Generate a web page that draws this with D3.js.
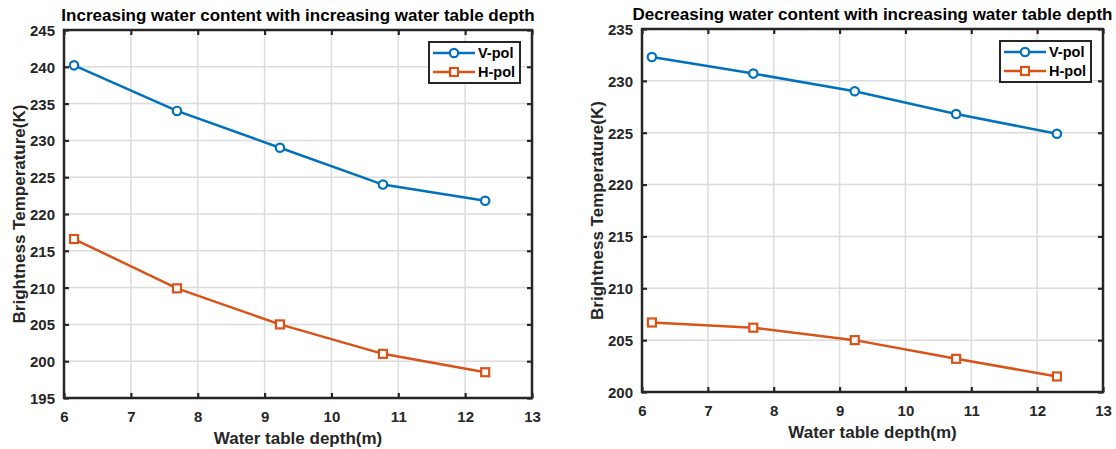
<!DOCTYPE html>
<html>
<head>
<meta charset="utf-8">
<script src="https://cdn.jsdelivr.net/npm/d3@7"></script>
<style>
  body { margin: 0; background: #fff; }
  svg { display: block; font-family: 'Liberation Sans', Arial, sans-serif; }
</style>
</head>
<body>
<div id="chart"></div>
<script>
// Data
var depth = [6.15, 7.69, 9.23, 10.77, 12.3]
var incV = [240.2, 234.0, 229.0, 224.0, 221.8]
var incH = [216.6, 209.9, 205.0, 201.0, 198.5]
var decV = [232.3, 230.7, 229.0, 226.8, 224.9]
var decH = [206.7, 206.2, 205.0, 203.2, 201.5]

var xTicks = [6, 7, 8, 9, 10, 11, 12, 13]
var yTicksInc = [195, 200, 205, 210, 215, 220, 225, 230, 235, 240, 245]
var yTicksDec = [200, 205, 210, 215, 220, 225, 230, 235]

var titles = [
  'Increasing water content with increasing water table depth',
  'Decreasing water content with increasing water table depth'
]
var seriesNames = ['V-pol', 'H-pol']
var xLabel = 'Water table depth(m)'
var yLabel = 'Brightness Temperature(K)'

var colors = ['#0072BD', '#D95319']
var axisColor = '#262626'

var svg = d3.select('#chart')
  .append('svg')
  .attr('width', 1116)
  .attr('height', 449)

// panel boxes (pixel layout only)
var panels = [
  { left: 64, right: 532, top: 30, bottom: 398, yDomain: [195, 245], yTicks: yTicksInc, v: incV, h: incH, title: titles[0], ylx: 19 },
  { left: 642, right: 1103, top: 29, bottom: 392, yDomain: [200, 235], yTicks: yTicksDec, v: decV, h: decH, title: titles[1], ylx: 597 }
]

panels.forEach(function(p) {
  var width = p.right - p.left
  var height = p.bottom - p.top

  var xPositionScale = d3.scaleLinear().domain([6, 13]).range([0, width])
  var yPositionScale = d3.scaleLinear().domain(p.yDomain).range([height, 0])

  var g = svg.append('g')
    .attr('transform', 'translate(' + p.left + ',' + p.top + ')')

  // grid lines
  g.append('g')
    .selectAll('line')
    .data(xTicks.slice(1, -1))
    .enter()
    .append('line')
    .attr('x1', d => xPositionScale(d))
    .attr('x2', d => xPositionScale(d))
    .attr('y1', 0)
    .attr('y2', height)
    .attr('stroke', '#dcdcdc')
    .attr('stroke-width', 1.5)

  g.append('g')
    .selectAll('line')
    .data(p.yTicks.slice(1, -1))
    .enter()
    .append('line')
    .attr('y1', d => yPositionScale(d))
    .attr('y2', d => yPositionScale(d))
    .attr('x1', 0)
    .attr('x2', width)
    .attr('stroke', '#dcdcdc')
    .attr('stroke-width', 1.5)

  // axes with inward ticks on all four sides
  var xAxis = d3.axisBottom(xPositionScale).tickValues(xTicks).tickFormat(d3.format('d'))
    .tickSizeInner(-5).tickSizeOuter(0).tickPadding(13)
  var yAxis = d3.axisLeft(yPositionScale).tickValues(p.yTicks).tickFormat(d3.format('d'))
    .tickSizeInner(-5).tickSizeOuter(0).tickPadding(9)
  var xTop = d3.axisTop(xPositionScale).tickValues(xTicks).tickSizeInner(-5).tickSizeOuter(0).tickFormat('')
  var yRight = d3.axisRight(yPositionScale).tickValues(p.yTicks).tickSizeInner(-5).tickSizeOuter(0).tickFormat('')

  var xg = g.append('g').attr('transform', 'translate(0,' + height + ')').call(xAxis)
  var yg = g.append('g').call(yAxis)
  var tg = g.append('g').call(xTop)
  var rg = g.append('g').attr('transform', 'translate(' + width + ',0)').call(yRight)

  ;[xg, yg, tg, rg].forEach(function(a) {
    a.select('.domain').remove()
    a.selectAll('.tick line').attr('stroke', axisColor).attr('stroke-width', 2.2)
    a.attr('font-family', null).attr('font-size', null)
    a.selectAll('.tick text')
      .attr('font-size', '15px')
      .attr('font-weight', 'bold')
      .attr('fill', axisColor)
  })
  yg.selectAll('.tick text').attr('dy', '0.36em')
  xg.selectAll('.tick text').attr('dy', '0.75em')

  g.append('rect')
    .attr('width', width)
    .attr('height', height)
    .attr('fill', 'none')
    .attr('stroke', axisColor)
    .attr('stroke-width', 2.5)

  // lines
  var series = [p.v, p.h]
  series.forEach(function(vals, i) {
    var pts = depth.map((d, j) => ({ x: d, y: vals[j] }))
    var line = d3.line()
      .x(d => xPositionScale(d.x))
      .y(d => yPositionScale(d.y))
    g.append('path')
      .datum(pts)
      .attr('d', line)
      .attr('fill', 'none')
      .attr('stroke', colors[i])
      .attr('stroke-width', 2.5)

    if (i === 0) {
      g.selectAll('.circ' + p.left)
        .data(pts)
        .enter()
        .append('circle')
        .attr('cx', d => xPositionScale(d.x))
        .attr('cy', d => yPositionScale(d.y))
        .attr('r', 4.2)
        .attr('fill', '#fff')
        .attr('stroke', colors[0])
        .attr('stroke-width', 2.2)
    } else {
      g.selectAll('.sq' + p.left)
        .data(pts)
        .enter()
        .append('rect')
        .attr('x', d => xPositionScale(d.x) - 4)
        .attr('y', d => yPositionScale(d.y) - 4)
        .attr('width', 8)
        .attr('height', 8)
        .attr('fill', '#fff')
        .attr('stroke', colors[1])
        .attr('stroke-width', 2.2)
    }
  })

  // title
  g.append('text')
    .text(p.title)
    .attr('x', width / 2)
    .attr('y', -9)
    .attr('text-anchor', 'middle')
    .attr('font-size', '17px')
    .attr('font-weight', 'bold')
    .attr('fill', '#000')

  // x label
  g.append('text')
    .text(xLabel)
    .attr('x', width / 2)
    .attr('y', height + 46)
    .attr('text-anchor', 'middle')
    .attr('font-size', '17px')
    .attr('font-weight', 'bold')
    .attr('fill', axisColor)

  // y label
  svg.append('text')
    .text(yLabel)
    .attr('transform', 'translate(' + (p.ylx + 6) + ',' + (p.top + height / 2) + ') rotate(-90)')
    .attr('text-anchor', 'middle')
    .attr('font-size', '17px')
    .attr('font-weight', 'bold')
    .attr('fill', axisColor)

  // legend
  var lw = 91
  var lh = 41
  var lg = g.append('g')
    .attr('transform', 'translate(' + (width - lw - 12) + ',' + 12 + ')')
  lg.append('rect')
    .attr('width', lw)
    .attr('height', lh)
    .attr('fill', '#fff')
    .attr('stroke', axisColor)
    .attr('stroke-width', 2)
  seriesNames.forEach(function(name, i) {
    var yy = 11 + i * 19
    lg.append('line')
      .attr('x1', 4).attr('x2', 46)
      .attr('y1', yy).attr('y2', yy)
      .attr('stroke', colors[i])
      .attr('stroke-width', 2.5)
    if (i === 0) {
      lg.append('circle')
        .attr('cx', 25).attr('cy', yy).attr('r', 4.2)
        .attr('fill', '#fff').attr('stroke', colors[0]).attr('stroke-width', 2.2)
    } else {
      lg.append('rect')
        .attr('x', 21).attr('y', yy - 4).attr('width', 8).attr('height', 8)
        .attr('fill', '#fff').attr('stroke', colors[1]).attr('stroke-width', 2.2)
    }
    lg.append('text')
      .text(name)
      .attr('x', 49)
      .attr('y', yy)
      .attr('dy', '0.36em')
      .attr('font-size', '14.5px')
      .attr('font-weight', 'bold')
      .attr('fill', '#000')
  })
})
</script>
</body>
</html>
